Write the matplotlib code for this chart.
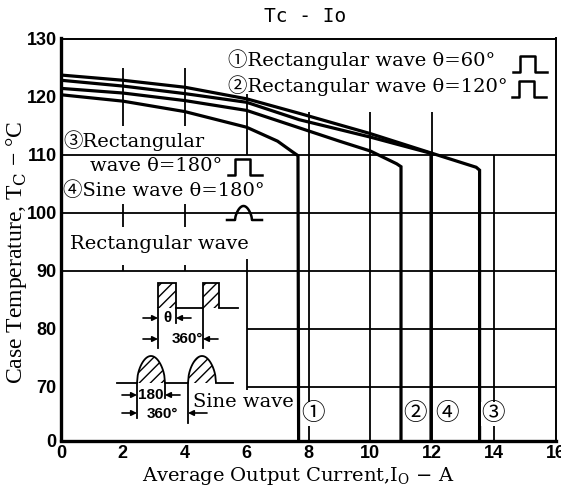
import numpy as np
import matplotlib
matplotlib.use('Agg')
import matplotlib.pyplot as plt
from matplotlib.transforms import Affine2D
from matplotlib.patches import Polygon, FancyArrowPatch

plt.rcParams['mathtext.fontset'] = 'custom'
plt.rcParams['mathtext.rm'] = 'DejaVu Serif'
plt.rcParams['hatch.linewidth'] = 1.0

# curve data (Io in A, Tc in degC)
io_60 = [0, 2, 4, 6, 7.0, 7.47, 7.66, 7.68]
tc_60 = [120.3, 119.2, 117.4, 114.7, 112.3, 110.5, 109.8, 0]

io_120 = [0, 2, 4, 6, 7.7, 9.0, 10.0, 10.85, 10.99, 10.99]
tc_120 = [121.4, 120.6, 119.3, 117.6, 114.6, 112.3, 110.6, 108.4, 107.9, 0]

io_180 = [0, 2, 4, 6, 7.7, 10, 12, 13.42, 13.53, 13.53]
tc_180 = [123.7, 122.8, 121.6, 119.6, 117.1, 113.6, 110.2, 107.8, 107.3, 0]

io_sine = [0, 2, 4, 6, 7.7, 10, 11.96, 11.96]
tc_sine = [122.8, 121.8, 120.5, 119.0, 116.0, 113.0, 110.2, 0]

xticks = [0, 2, 4, 6, 8, 10, 12, 14, 16]
xtick_labels = ['0', '2', '4', '6', '8', '10', '12', '14', '16']
yticks = [0, 70, 80, 90, 100, 110, 120, 130]
ytick_labels = ['0', '70', '80', '90', '100', '110', '120', '130']


# broken y axis: 0..70 squeezed into a bit less than one 10 degC step
def fwd(y):
    y = np.asarray(y, dtype=float)
    return np.where(y >= 70, y, 70 - (70 - y) * 0.133)


def inv(p):
    p = np.asarray(p, dtype=float)
    return np.where(p >= 70, p, 70 - (70 - p) / 0.133)


W, H = 561, 495
fig = plt.figure(figsize=(W / 100, H / 100), dpi=100)
ax = fig.add_axes([61 / W, (H - 440.5) / H, 495 / W, 402 / H])
ax.set_yscale('function', functions=(fwd, inv))
ax.set_xlim(0, 16)
ax.set_ylim(0, 130)

# pixel transform (top-left origin) for the hand drawn bits of the sheet
T = Affine2D().scale(1 / W, -1 / H).translate(0, 1) + fig.transFigure

# partial grid like in the datasheet
gk = dict(color='black', lw=1.3, zorder=1)
ax.hlines([110, 100, 90], 0, 16, **gk)
ax.hlines([80, 70], 6, 16, **gk)
ax.vlines([2, 4], 115, 125, **gk)
ax.vlines([2, 4], 97.5, 101.5, **gk)
ax.vlines([2, 4], 90, 91, **gk)
ax.vlines(6, 110, 120.5, **gk)
ax.vlines(6, 66, 92, **gk)
ax.vlines([8, 10, 12], 0, 117.3, **gk)
ax.vlines(14, 0, 110, **gk)

lk = dict(color='black', lw=2.3, solid_joinstyle='miter', zorder=3)
ax.plot(io_60, tc_60, **lk)
ax.plot(io_120, tc_120, **lk)
ax.plot(io_180, tc_180, **lk)
ax.plot(io_sine, tc_sine, **lk)

ax.set_xticks(xticks)
ax.set_xticklabels(xtick_labels)
ax.set_yticks(yticks)
ax.set_yticklabels(ytick_labels)
ax.yaxis.set_minor_locator(matplotlib.ticker.NullLocator())
ax.tick_params(length=0, pad=3)
tick_font = ['Liberation Sans', 'DejaVu Sans']
for lab in ax.get_xticklabels() + ax.get_yticklabels():
    lab.set_family(tick_font)
    lab.set_fontweight('bold')
    lab.set_fontsize(13)

for s in ['left', 'bottom']:
    ax.spines[s].set_linewidth(2.4)
for s in ['top', 'right']:
    ax.spines[s].set_linewidth(1.4)

fig.text(305, 16, 'Tc - Io', transform=T, ha='center', va='center',
         family='DejaVu Sans Mono', fontsize=14)
fig.text(17, 252, 'Case Temperature, T$_\\mathrm{C}$ − °C', transform=T,
         rotation=90, ha='center', va='center', family='Liberation Serif',
         fontsize=17)
fig.text(298, 476, 'Average Output Current,I$_\\mathrm{O}$ − A', transform=T,
         ha='center', va='center', family='DejaVu Serif', fontsize=14)

serif = ['DejaVu Serif', 'Noto Sans CJK JP']
tk = dict(transform=T, ha='left', va='center', family=serif, fontsize=14, zorder=5)
fig.text(228, 60, '①Rectangular wave θ=60°', **tk)
fig.text(228, 86, '②Rectangular wave θ=120°', **tk)
fig.text(63, 141, '③Rectangular', **tk)
fig.text(90, 166, 'wave θ=180°', **tk)
fig.text(63, 191, '④Sine wave θ=180°', **tk)
fig.text(70, 244, 'Rectangular wave', **tk)
fig.text(193, 402, 'Sine wave', **tk)

ck = dict(transform=T, ha='center', va='center', family=serif, fontsize=17,
          bbox=dict(fc='white', ec='none', pad=0.3), zorder=5)
fig.text(313, 414, '①', **ck)
fig.text(415, 414, '②', **ck)
fig.text(447, 414, '④', **ck)
fig.text(493, 414, '③', **ck)

# little waveform symbols next to the legend text
for px_, py_ in [(513, 72), (512, 97), (228, 175)]:
    fig.add_artist(plt.Line2D([px_, px_ + 7, px_ + 7, px_ + 22, px_ + 22, px_ + 34],
                              [py_, py_, py_ - 16, py_ - 16, py_, py_],
                              transform=T, color='black', lw=1.8))
ph = np.linspace(0, np.pi, 40)
fig.add_artist(plt.Line2D(np.r_[227, 235 + 17 * ph / np.pi, 262],
                          np.r_[220, 220 - 14 * np.sin(ph) ** 0.6, 220],
                          transform=T, color='black', lw=1.8))

# rectangular wave diagram
wk = dict(transform=T, color='black', lw=1.3)
for x0, x1 in [(158, 176), (203, 219)]:
    fig.add_artist(Polygon([[x0, 308], [x0, 283], [x1, 283], [x1, 308]],
                           closed=False, transform=T, fc='white', ec='black',
                           lw=1.3, hatch='///'))
fig.add_artist(plt.Line2D([176, 203], [308, 308], **wk))
fig.add_artist(plt.Line2D([219, 238], [308, 308], **wk))
fig.add_artist(plt.Line2D([158, 158], [308, 348], **wk))
fig.add_artist(plt.Line2D([176, 176], [308, 323], **wk))
fig.add_artist(plt.Line2D([203, 203], [308, 348], **wk))

# sine wave diagram
for x0 in [137, 188]:
    hx = x0 + 28 * ph / np.pi
    hy = 383 - 27 * np.sin(ph) ** 0.5
    fig.add_artist(Polygon(np.c_[hx, hy], closed=False, transform=T,
                           fc='white', ec='black', lw=1.3, hatch='///'))
fig.add_artist(plt.Line2D([117, 137], [383, 383], **wk))
fig.add_artist(plt.Line2D([165, 188], [383, 383], **wk))
fig.add_artist(plt.Line2D([216, 233], [383, 383], **wk))
fig.add_artist(plt.Line2D([137, 137], [383, 418], **wk))
fig.add_artist(plt.Line2D([165, 165], [383, 398], **wk))
fig.add_artist(plt.Line2D([188, 188], [383, 423], **wk))

dims = [((143, 318), (158, 318)), ((191, 318), (176, 318)),
        ((143, 339), (158, 339)), ((218, 339), (203, 339)),
        ((122, 395), (137, 395)), ((180, 395), (165, 395)),
        ((122, 413), (137, 413)), ((207, 413), (188, 413))]
for a, b in dims:
    fig.add_artist(FancyArrowPatch(a, b, transform=T, arrowstyle='-|>',
                                   color='black', lw=1.2, mutation_scale=8,
                                   shrinkA=0, shrinkB=0))

nk = dict(transform=T, ha='center', va='center', family=tick_font,
          fontweight='bold', fontsize=11)
fig.text(167, 318, 'θ', **nk)
fig.text(187, 339, '360°', **nk)
fig.text(151, 395, '180', **nk)
fig.text(162, 414, '360°', **nk)

fig.savefig('out.png', dpi=100, facecolor='white')
